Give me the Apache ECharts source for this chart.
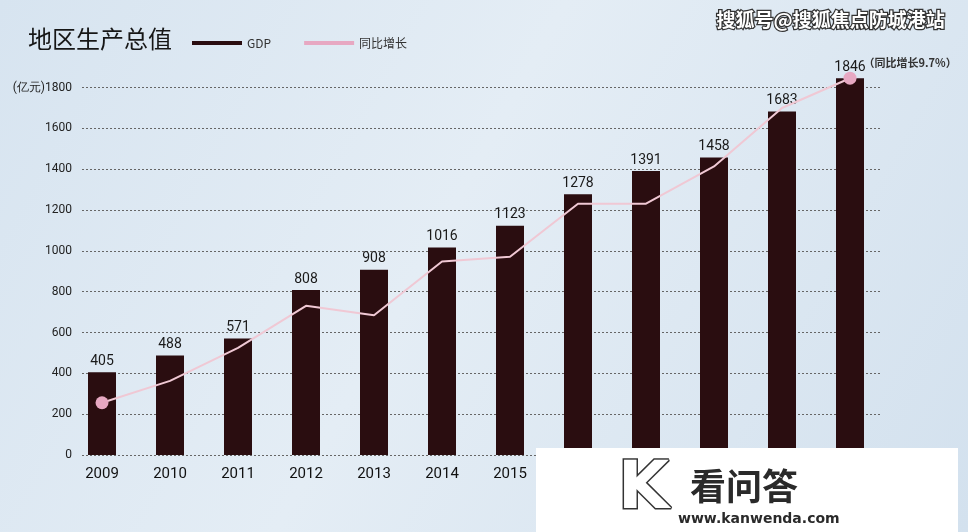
<!DOCTYPE html>
<html><head><meta charset="utf-8">
<script src="https://cdn.jsdelivr.net/npm/echarts@6/dist/echarts.min.js"></script>
<style>html,body{margin:0;padding:0;}#c{width:968px;height:532px;}</style>
</head><body><div id="c"></div>
<script>
const years = ['2009','2010','2011','2012','2013','2014','2015','2016','2017','2018','2019','2020'];
const gdpValues = [405, 488, 571, 808, 908, 1016, 1123, 1278, 1391, 1458, 1683, 1846];
const growthLine = [256, 363, 525, 731, 685, 948, 971, 1231, 1231, 1414, 1700, 1846];
const yTicks = [0, 200, 400, 600, 800, 1000, 1200, 1400, 1600, 1800];
const lastNote = '（同比增长9.7%）';

const chart = echarts.init(document.getElementById('c'));
const lineData = growthLine.map((v, i) => {
  const isEnd = i === 0 || i === growthLine.length - 1;
  const d = { value: v, symbolSize: isEnd ? 13 : 0 };
  if (i === growthLine.length - 1) {
    d.label = { show: true, formatter: lastNote, position: 'right', offset: [2, -15], fontSize: 11, color: '#333', fontWeight: 'bold', fontFamily: 'Noto Sans CJK SC' };
  }
  return d;
});
chart.setOption({
  backgroundColor: {
    type: 'linear', x: 0, y: 0, x2: 1, y2: 1,
    colorStops: [
      { offset: 0, color: '#d7e4f0' },
      { offset: 0.45, color: '#e4edf5' },
      { offset: 1, color: '#d3e1ee' }
    ]
  },
  animation: false,
  title: {
    text: '地区生产总值', left: 23, top: 22,
    textStyle: { fontSize: 24, fontWeight: 'normal', color: '#161616', fontFamily: 'Noto Sans CJK SC' }
  },
  legend: {
    left: 187, top: 32, itemWidth: 50, itemHeight: 4, itemGap: 33,
    textStyle: { fontSize: 12, color: '#333', fontFamily: 'Noto Sans CJK SC' },
    data: [{ name: 'GDP', icon: 'rect' }, { name: '同比增长', icon: 'rect' }]
  },
  grid: [
    { left: 68, right: 84, top: 87.6, bottom: 77 },
    { left: 82, right: 86, top: 87.6, bottom: 77 }
  ],
  xAxis: [
    {
      type: 'category', data: years, gridIndex: 0,
      axisLine: { show: false }, axisTick: { show: false },
      axisLabel: { fontSize: 15, color: '#111', margin: 12, fontFamily: 'Roboto' }
    },
    { type: 'value', gridIndex: 1, show: false, min: 0, max: 1 }
  ],
  yAxis: [
    { type: 'value', gridIndex: 0, min: 0, max: 1800, show: false, splitLine: { show: false } },
    {
      type: 'value', gridIndex: 1, min: 0, max: 1800, interval: 200,
      axisLine: { show: false }, axisTick: { show: false },
      axisLabel: {
        fontSize: 12, color: '#222', margin: 10, fontFamily: 'Roboto',
        formatter: v => yTicks.includes(v) ? (v === 1800 ? '(亿元)' + v : String(v)) : ''
      },
      splitLine: { lineStyle: { type: [2, 2], color: '#666', width: 1 } }
    }
  ],
  series: [
    {
      name: 'GDP', type: 'bar', data: gdpValues, barWidth: 28, clip: false,
      xAxisIndex: 0, yAxisIndex: 0, z: 3,
      itemStyle: { color: '#2a0d10' },
      label: { show: true, position: 'top', distance: 4, fontSize: 14, color: '#1a1a1a', fontFamily: 'Roboto' }
    },
    {
      name: '同比增长', type: 'line', data: lineData, z: 5, clip: false,
      xAxisIndex: 0, yAxisIndex: 0,
      symbol: 'circle', showSymbol: true,
      lineStyle: { color: '#f0c8d4', width: 2 },
      itemStyle: { color: '#e7a8c2' }
    }
  ],
  color: ['#2a0d10', '#f0bfd0'],
  graphic: [
    {
      type: 'text', right: 22, top: 9,
      style: {
        text: '搜狐号@搜狐焦点防城港站', fontSize: 19, fontWeight: 'bold',
        fill: '#ffffff', stroke: '#333', lineWidth: 2.5, fontFamily: 'Noto Sans CJK SC'
      },
      z: 10
    },
    {
      type: 'rect', shape: { x: 536, y: 448, width: 422, height: 84 },
      style: { fill: '#ffffff' }, z: 20
    },
    {
      type: 'text', x: 618, y: 458,
      style: { text: 'K', fontSize: 66, fontWeight: 'bold', fill: '#ffffff', stroke: '#333', lineWidth: 3, fontFamily: 'DejaVu Sans' },
      z: 21
    },
    {
      type: 'text', x: 690, y: 468,
      style: { text: '看问答', fontSize: 36, fontWeight: 'bold', fill: '#2a2a2a', fontFamily: 'Noto Sans CJK SC' },
      z: 21
    },
    {
      type: 'text', x: 678, y: 512,
      style: { text: 'www.kanwenda.com', fontSize: 14, fontWeight: 'bold', fill: '#2a2a2a', fontFamily: 'DejaVu Sans' },
      z: 21
    }
  ]
});
</script></body></html>
